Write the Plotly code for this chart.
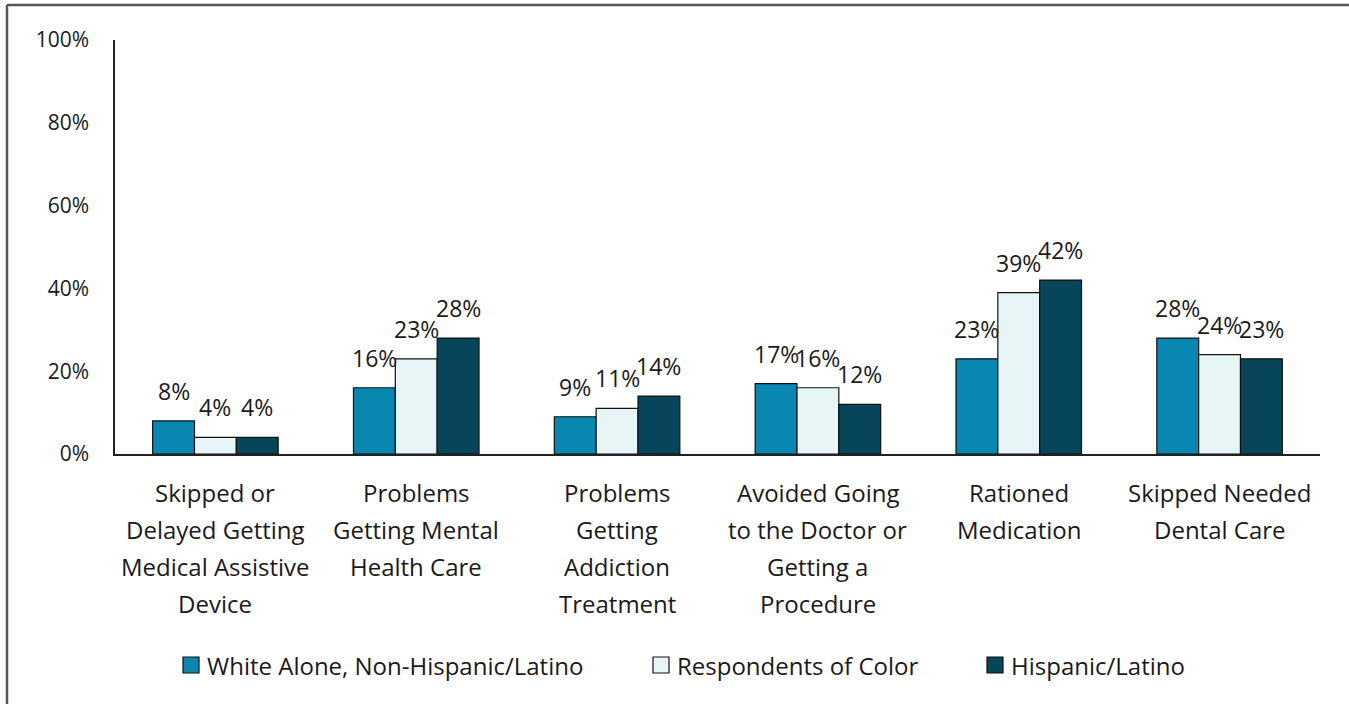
import plotly.graph_objects as go

categories = [
    "Skipped or<br>Delayed Getting<br>Medical Assistive<br>Device",
    "Problems<br>Getting Mental<br>Health Care",
    "Problems<br>Getting<br>Addiction<br>Treatment",
    "Avoided Going<br>to the Doctor or<br>Getting a<br>Procedure",
    "Rationed<br>Medication",
    "Skipped Needed<br>Dental Care",
]
series_names = ["White Alone, Non-Hispanic/Latino", "Respondents of Color", "Hispanic/Latino"]
white_alone = [8, 16, 9, 17, 23, 28]
respondents_of_color = [4, 23, 11, 16, 39, 24]
hispanic_latino = [4, 28, 14, 12, 42, 23]
y_ticks = [0, 20, 40, 60, 80, 100]
title_text = "Types of Unmet Health Care Needs, by Race/Ethnicity"

series_values = [white_alone, respondents_of_color, hispanic_latino]
colors = ["#0A87B0", "#E8F5F7", "#07465A"]
FONT = "Open Sans"
TXT = "#1a1a1a"
W, H = 1349, 704
L, R, T, B = 115, 29, 40, 250
pw, ph = W - L - R, H - T - B
bargap = 0.375
n = len(series_values)


def px_x(p):
    return (p - L) / pw


def px_y(p):
    return (H - B - p) / ph


x_idx = list(range(len(categories)))
fig = go.Figure()
for name, vals, col in zip(series_names, series_values, colors):
    fig.add_trace(go.Bar(
        x=x_idx, y=vals, name=name, showlegend=False,
        marker=dict(color=col, line=dict(color="#111111", width=1.2)),
    ))

bw = (1 - bargap) / n
annotations = []
for k, vals in enumerate(series_values):
    for i, v in enumerate(vals):
        annotations.append(dict(
            x=i + (k - (n - 1) / 2) * bw, y=v, xref="x", yref="y",
            text=f"{v}%", showarrow=False, yanchor="bottom", yshift=12,
            font=dict(family=FONT, size=23, color=TXT),
        ))
# multi-line category labels with wider line spacing
for i, cat in enumerate(categories):
    for j, line in enumerate(cat.split("<br>")):
        annotations.append(dict(
            x=i, xref="x", y=0, yref="paper", yanchor="middle",
            yshift=-38 - 37 * j, text=line, showarrow=False,
            font=dict(family=FONT, size=24, color=TXT),
        ))
# title (cut off at the top edge, as in the source)
annotations.append(dict(
    x=px_x(503), xref="paper", xanchor="left",
    y=px_y(-10), yref="paper", yanchor="bottom",
    text=f"<b>{title_text}</b>", showarrow=False,
    font=dict(family=FONT, size=22, color="#111111"),
))

frame_x = px_x(7)
frame_y = px_y(5)
shapes = [
    dict(type="line", xref="paper", yref="paper", x0=frame_x, x1=frame_x,
         y0=-2, y1=frame_y, line=dict(color="#555555", width=2.5)),
    dict(type="line", xref="paper", yref="paper", x0=frame_x, x1=1.2,
         y0=frame_y, y1=frame_y, line=dict(color="#555555", width=2.5)),
]

# legend drawn as swatches + labels
legend_square_px = [183, 653, 987]
legend_y_px = 665
for name, col, sx in zip(series_names, colors, legend_square_px):
    shapes.append(dict(
        type="rect", xref="paper", yref="paper",
        x0=px_x(sx), x1=px_x(sx + 16), y0=px_y(legend_y_px + 8), y1=px_y(legend_y_px - 8),
        fillcolor=col, line=dict(color="#111111", width=1.2),
    ))
    annotations.append(dict(
        x=px_x(sx + 22), xref="paper", xanchor="left",
        y=px_y(legend_y_px), yref="paper", yanchor="middle",
        text=name, showarrow=False,
        font=dict(family=FONT, size=24, color=TXT),
    ))

fig.update_layout(
    width=W, height=H,
    margin=dict(l=L, r=R, t=T, b=B),
    paper_bgcolor="white", plot_bgcolor="white",
    barmode="group", bargap=bargap, bargroupgap=0,
    font=dict(family=FONT, size=20, color=TXT),
    showlegend=False,
    annotations=annotations,
    shapes=shapes,
)
fig.update_xaxes(range=[-0.5, len(categories) - 0.5], showticklabels=False,
                 showline=True, linecolor="#222222", linewidth=1.5,
                 ticks="", showgrid=False, zeroline=False)
fig.update_yaxes(range=[0, 100], tickvals=y_ticks, ticktext=[f"{t}%" for t in y_ticks],
                 showline=True, linecolor="#222222", linewidth=1.5,
                 ticks="", showgrid=False, zeroline=False, ticklabelstandoff=20,
                 tickfont=dict(family=FONT, size=21, color=TXT))

fig.write_html("out.html")
